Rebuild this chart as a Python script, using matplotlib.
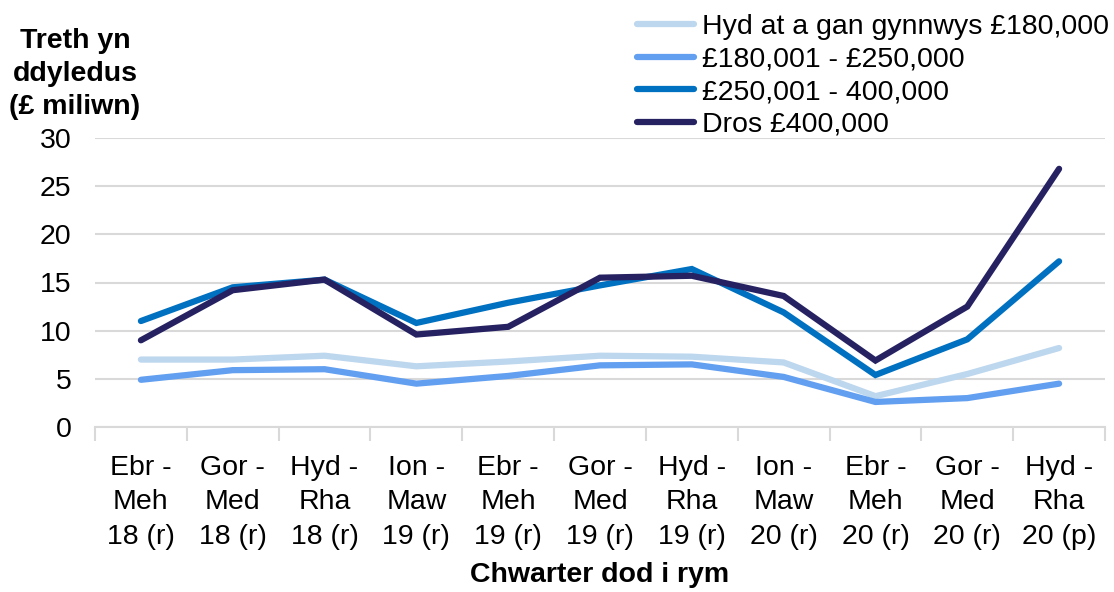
import numpy as np
import matplotlib.pyplot as plt

plt.rcParams['font.family'] = ['Liberation Sans', 'DejaVu Sans']

quarters = ['Ebr -\nMeh\n18 (r)', 'Gor -\nMed\n18 (r)', 'Hyd -\nRha\n18 (r)', 'Ion -\nMaw\n19 (r)',
            'Ebr -\nMeh\n19 (r)', 'Gor -\nMed\n19 (r)', 'Hyd -\nRha\n19 (r)', 'Ion -\nMaw\n20 (r)',
            'Ebr -\nMeh\n20 (r)', 'Gor -\nMed\n20 (r)', 'Hyd -\nRha\n20 (p)']

band_180 = [7.0, 7.0, 7.4, 6.3, 6.8, 7.4, 7.3, 6.7, 3.2, 5.5, 8.2]
band_250 = [4.9, 5.9, 6.0, 4.5, 5.3, 6.4, 6.5, 5.2, 2.6, 3.0, 4.5]
band_400 = [11.0, 14.5, 15.3, 10.8, 12.9, 14.7, 16.4, 11.9, 5.4, 9.1, 17.2]
band_over = [9.0, 14.2, 15.3, 9.6, 10.4, 15.5, 15.7, 13.6, 6.9, 12.5, 26.8]

labels = ['Hyd at a gan gynnwys £180,000', '£180,001 - £250,000',
          '£250,001 - 400,000', 'Dros £400,000']
colors = ['#BDD7EE', '#629FF0', '#0070C0', '#262262']

fs = 20.5

fig = plt.figure(figsize=(11.14, 5.92), dpi=100)
ax = fig.add_axes([95/1114, 1-427/592, 1010/1114, 289/592])

x = np.arange(len(quarters))
for ys, lab, c in zip([band_180, band_250, band_400, band_over], labels, colors):
    ax.plot(x, ys, color=c, lw=4.5, label=lab, solid_capstyle='round', solid_joinstyle='miter')

ax.set_xlim(-0.5, len(quarters) - 0.5)
ax.set_ylim(0, 30)
ax.set_yticks(range(0, 31, 5))
ax.yaxis.grid(True, color='#D9D9D9', lw=1.5)
ax.set_axisbelow(True)
for s in ['top', 'right', 'left']:
    ax.spines[s].set_visible(False)
ax.spines['bottom'].set_color('#D9D9D9')
ax.spines['bottom'].set_linewidth(1.5)

ax.set_xticks(x)
ax.set_xticklabels(quarters, fontsize=fs, linespacing=1.42)
ax.set_xticks(np.arange(-0.5, len(quarters)), minor=True)
ax.tick_params(axis='x', which='major', length=0, pad=20)
ax.tick_params(axis='x', which='minor', length=10, width=1.5, color='#D9D9D9')
ax.tick_params(axis='y', length=0, labelsize=fs, pad=17)

ax.set_xlabel('Chwarter dod i rym', fontsize=fs, fontweight='bold', labelpad=9)

fig.text(75/1114, 1-28/592, 'Treth yn\nddyledus\n(£ miliwn)', ha='center', va='top',
         fontsize=fs, fontweight='bold', linespacing=1.36)

fig.legend(loc='upper right', bbox_to_anchor=(1.011, 1.005), frameon=False, fontsize=fs,
           handlelength=2.0, handletextpad=0.3, labelspacing=0.23, borderaxespad=0.2)

fig.savefig('out.png', dpi=100)
